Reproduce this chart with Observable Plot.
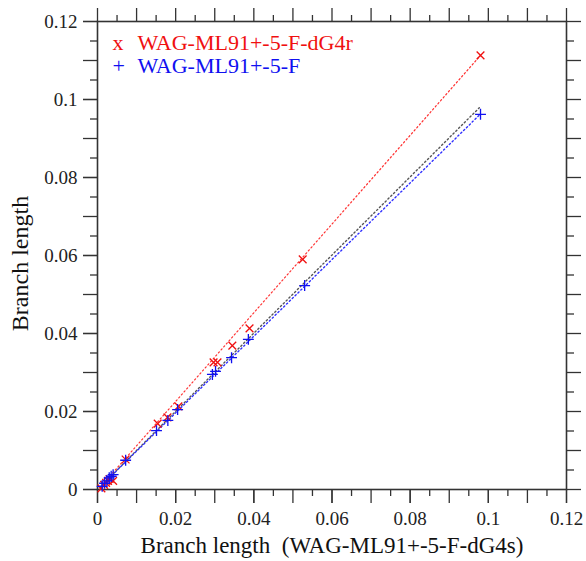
<!DOCTYPE html>
<html>
<head>
<meta charset="utf-8">
<script src="https://cdn.jsdelivr.net/npm/d3@7"></script>
<script src="https://cdn.jsdelivr.net/npm/@observablehq/plot@0.6"></script>
<style>
  html, body { margin: 0; padding: 0; background: white; }
  svg, svg text { font-family: "Liberation Serif", "Times New Roman", Times, Tinos, "Nimbus Roman", "Noto Serif", "DejaVu Serif", serif !important; }
</style>
</head>
<body>
<div id="chart"></div>
<script>
// Series: WAG-ML91+-5-F-dG4r (red x)
const redX = [0.0010, 0.0017, 0.0022, 0.0027, 0.0031, 0.0040, 0.0072, 0.0154, 0.0179, 0.0207, 0.0297, 0.0307, 0.0345, 0.0389, 0.0525, 0.0980];
const redY = [0.0003, 0.0012, 0.0017, 0.0022, 0.0027, 0.0022, 0.0077, 0.0169, 0.0185, 0.0213, 0.0326, 0.0326, 0.0369, 0.0413, 0.0590, 0.1113];
// Series: WAG-ML91+-5-F (blue +)
const blueX = [0.0012, 0.0018, 0.0024, 0.0030, 0.0035, 0.0040, 0.0072, 0.0151, 0.0180, 0.0205, 0.0294, 0.0302, 0.0343, 0.0386, 0.0530, 0.0980];
const blueY = [0.0008, 0.0016, 0.0022, 0.0030, 0.0034, 0.0038, 0.0075, 0.0151, 0.0177, 0.0205, 0.0295, 0.0303, 0.0338, 0.0385, 0.0523, 0.0962];
// Fit lines (endpoints)
const redFitX = [0.0005, 0.0980];
const redFitY = [0.0004, 0.1113];
const blueFitX = [0.0005, 0.0980];
const blueFitY = [0.0005, 0.0963];
const diagX = [0.0005, 0.0977];
const diagY = [0.0005, 0.0979];

// Ticks
const labelTicks = [0, 0.02, 0.04, 0.06, 0.08, 0.1, 0.12];
const tickLabels = ["0", "0.02", "0.04", "0.06", "0.08", "0.1", "0.12"];
const longTicks = [0, 0.01, 0.02, 0.03, 0.04, 0.05, 0.06, 0.07, 0.08, 0.09, 0.1, 0.11, 0.12];
const shortTicks = [0.005, 0.015, 0.025, 0.035, 0.045, 0.055, 0.065, 0.075, 0.085, 0.095, 0.105, 0.115];

const legendSymbols = ["x", "+"];
const legendLabels = ["WAG-ML91+-5-F-dG4r", "WAG-ML91+-5-F"];
const legendColors = ["#f01010", "#1010f0"];
const xTitle = "Branch length\u00a0 (WAG-ML91+-5-F-dG4s)";
const yTitle = "Branch length";

const red = redX.map((x, i) => ({x, y: redY[i]}));
const blue = blueX.map((x, i) => ({x, y: blueY[i]}));
const redFit = redFitX.map((x, i) => ({x, y: redFitY[i]}));
const blueFit = blueFitX.map((x, i) => ({x, y: blueFitY[i]}));
const diag = diagX.map((x, i) => ({x, y: diagY[i]}));

const axisColor = "#333";
const fmt = d => tickLabels[labelTicks.indexOf(d)] ?? "";
const blank = () => "";

const marks = [
  Plot.frame({stroke: axisColor, strokeWidth: 1.6}),
  // short ticks
  Plot.axisX(shortTicks, {anchor: "bottom", tickSize: 7, tickFormat: blank, label: null, stroke: axisColor, strokeWidth: 1.3}),
  Plot.axisX(shortTicks, {anchor: "top", tickSize: 7, tickFormat: blank, label: null, stroke: axisColor, strokeWidth: 1.3}),
  Plot.axisY(shortTicks, {anchor: "left", tickSize: 7, tickFormat: blank, label: null, stroke: axisColor, strokeWidth: 1.3}),
  Plot.axisY(shortTicks, {anchor: "right", tickSize: 7, tickFormat: blank, label: null, stroke: axisColor, strokeWidth: 1.3}),
  // long ticks
  Plot.axisX(longTicks, {anchor: "bottom", tickSize: 14, tickFormat: blank, label: null, stroke: axisColor, strokeWidth: 1.3}),
  Plot.axisX(longTicks, {anchor: "top", tickSize: 14, tickFormat: blank, label: null, stroke: axisColor, strokeWidth: 1.3}),
  Plot.axisY(longTicks, {anchor: "left", tickSize: 14, tickFormat: blank, label: null, stroke: axisColor, strokeWidth: 1.3}),
  Plot.axisY(longTicks, {anchor: "right", tickSize: 14, tickFormat: blank, label: null, stroke: axisColor, strokeWidth: 1.3}),
  // labels
  Plot.axisX(labelTicks, {anchor: "bottom", tickSize: 14, tickPadding: 8, tickFormat: fmt, label: null, stroke: axisColor, strokeWidth: 1.3, fill: "#222", fontSize: 19}),
  Plot.axisY(labelTicks, {anchor: "left", tickSize: 14, tickPadding: 6, tickFormat: fmt, label: null, stroke: axisColor, strokeWidth: 1.3, fill: "#222", fontSize: 19}),
  // fit lines
  Plot.line(diag, {x: "x", y: "y", stroke: "#555", strokeWidth: 1.4, strokeDasharray: "1.4,2.6"}),
  Plot.line(blueFit, {x: "x", y: "y", stroke: "#3030ff", strokeWidth: 1.4, strokeDasharray: "1.4,2.6", strokeDashoffset: 2}),
  Plot.line(redFit, {x: "x", y: "y", stroke: "#ff3030", strokeWidth: 1.2, strokeDasharray: "1.4,2.6"}),
  // points
  Plot.dot(red, {x: "x", y: "y", symbol: "times", r: 3.6, stroke: legendColors[0], strokeWidth: 1.3}),
  Plot.dot(blue, {x: "x", y: "y", symbol: "plus", r: 3.6, stroke: legendColors[1], strokeWidth: 1.3}),
  // axis titles
  Plot.text([xTitle], {frameAnchor: "bottom", dy: 56, fontSize: 23, fill: "#111", textAnchor: "middle", lineAnchor: "middle"}),
  Plot.text([yTitle], {frameAnchor: "left", dx: -77, dy: 8, rotate: -90, fontSize: 24, fill: "#111", textAnchor: "middle", lineAnchor: "middle"}),
];
legendLabels.forEach((lab, i) => {
  marks.push(Plot.text([legendSymbols[i]], {frameAnchor: "top-left", dx: 15, dy: 21 + i * 23, textAnchor: "start", lineAnchor: "middle", fontSize: 22, fill: legendColors[i]}));
  marks.push(Plot.text([lab], {frameAnchor: "top-left", dx: 40, dy: 21 + i * 23, textAnchor: "start", lineAnchor: "middle", fontSize: 22, fill: legendColors[i]}));
});

const chart = Plot.plot({
  width: 586,
  height: 561,
  marginLeft: 97,
  marginRight: 20,
  marginTop: 21,
  marginBottom: 72,
  x: {domain: [0, 0.12], axis: null},
  y: {domain: [0, 0.12], axis: null},
  style: {fontSize: "19px", background: "white", overflow: "visible"},
  marks
});
document.getElementById("chart").appendChild(chart);
</script>
</body>
</html>
